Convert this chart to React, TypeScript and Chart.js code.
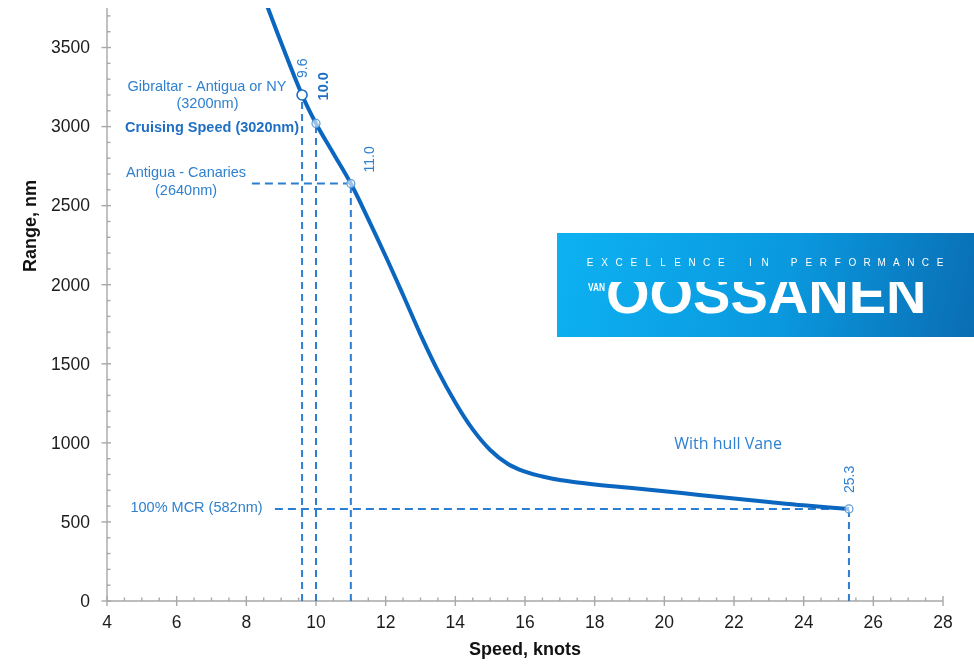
import React, { useEffect, useRef } from "react";
import { Chart, registerables } from "chart.js";

Chart.register(...registerables);

// ---- data ----
const speeds = [8.5, 9.0, 9.6, 10.0, 10.5, 11.0, 11.5, 12.0, 12.5, 13.0, 13.5, 14.0, 14.5, 15.0, 15.5, 16.0, 16.5, 17.0, 18, 19, 20, 21, 22, 23, 24, 25.3];
const ranges = [3820, 3530, 3200, 3020, 2830, 2640, 2415, 2180, 1935, 1685, 1455, 1255, 1085, 955, 868, 818, 787, 765, 737, 716, 694, 671, 648, 626, 605, 582];

const markerSpeeds = [9.6, 10.0, 11.0, 25.3];
const markerRanges = [3200, 3020, 2640, 582];
const markerLabels = ["9.6", "10.0", "11.0", "25.3"];
const guideStartSpeeds = [null, null, 8.16, 8.82];

const xTicks = [4, 6, 8, 10, 12, 14, 16, 18, 20, 22, 24, 26, 28];
const yTicks = [0, 500, 1000, 1500, 2000, 2500, 3000, 3500];
const xRange = [4, 28];
const yRange = [0, 3750];

const xTitle = "Speed, knots";
const yTitle = "Range, nm";

const notes = [
  { text: "Gibraltar - Antigua or NY", x: 6.87, y: 3250, bold: false },
  { text: "(3200nm)", x: 6.885, y: 3143, bold: false },
  { text: "Cruising Speed (3020nm)", x: 7.015, y: 2991, bold: true },
  { text: "Antigua - Canaries", x: 6.27, y: 2707, bold: false },
  { text: "(2640nm)", x: 6.27, y: 2593, bold: false },
  { text: "100% MCR (582nm)", x: 6.57, y: 588, bold: false },
];
const vaneNote = { text: "With hull Vane", x: 21.83, y: 987 };

const logoTagline = "EXCELLENCE IN PERFORMANCE";
const logoSmall = "VAN";
const logoBig = "OOSSANEN";

// ---- styles ----
const CURVE = "#0b66bf";
const GUIDE = "#2a7fd2";
const NOTE = "#2f80cf";
const AXIS = "#a8a8a8";
const FONT = "'Liberation Sans', Arial, sans-serif";

const labelOffsets = [
  { dx: 1, dy: -17, bold: false, size: 14 },
  { dx: 8, dy: -23, bold: true, size: 14.5 },
  { dx: 19, dy: -11, bold: false, size: 14 },
  { dx: 1, dy: -16, bold: false, size: 14 },
];

const drawPlugin = {
  id: "customDraw",
  beforeDatasetsDraw(chart: any) {
    const ctx = chart.ctx as CanvasRenderingContext2D;
    const xs = chart.scales.x;
    const ys = chart.scales.y;
    const area = chart.chartArea;
    const ax = area.left;
    const ay = area.bottom;
    ctx.save();
    ctx.strokeStyle = AXIS;
    ctx.lineWidth = 1.4;
    ctx.beginPath();
    ctx.moveTo(ax, area.top);
    ctx.lineTo(ax, ay);
    ctx.lineTo(area.right, ay);
    ctx.stroke();
    for (let v = yRange[0]; v <= yRange[1]; v += 100) {
      const py = ys.getPixelForValue(v);
      ctx.beginPath();
      if (v % 500 === 0) {
        ctx.moveTo(ax - 5.5, py);
        ctx.lineTo(ax + 4, py);
      } else {
        ctx.moveTo(ax, py);
        ctx.lineTo(ax + 3.5, py);
      }
      ctx.stroke();
    }
    for (let v = xRange[0]; v <= xRange[1] + 1e-9; v += 0.5) {
      const px = xs.getPixelForValue(v);
      ctx.beginPath();
      if (Math.abs(v - Math.round(v)) < 1e-9 && Math.round(v) % 2 === 0) {
        ctx.moveTo(px, ay - 5);
        ctx.lineTo(px, ay + 5);
      } else {
        ctx.moveTo(px, ay - 3.5);
        ctx.lineTo(px, ay);
      }
      ctx.stroke();
    }
    ctx.fillStyle = "#1c1c1c";
    ctx.font = `17.5px ${FONT}`;
    ctx.textAlign = "right";
    ctx.textBaseline = "middle";
    yTicks.forEach((v) => {
      ctx.fillText(String(v), 90, ys.getPixelForValue(v) + 1);
    });
    ctx.textAlign = "center";
    xTicks.forEach((v) => {
      ctx.fillText(String(v), xs.getPixelForValue(v), ay + 22);
    });
    ctx.font = `bold 18px ${FONT}`;
    ctx.fillStyle = "#111";
    ctx.fillText(xTitle, 525, ay + 49);
    ctx.save();
    ctx.translate(31, 226);
    ctx.rotate(-Math.PI / 2);
    ctx.fillText(yTitle, 0, 0);
    ctx.restore();
    ctx.restore();
  },
  afterDraw(chart: any) {
    const ctx = chart.ctx as CanvasRenderingContext2D;
    const xs = chart.scales.x;
    const ys = chart.scales.y;
    ctx.save();
    ctx.textAlign = "center";
    ctx.textBaseline = "middle";
    notes.forEach((n) => {
      ctx.font = `${n.bold ? "bold " : ""}14.5px ${FONT}`;
      ctx.fillStyle = n.bold ? "#1f6fc4" : NOTE;
      ctx.fillText(n.text, xs.getPixelForValue(n.x), ys.getPixelForValue(n.y));
    });
    ctx.font = `16px 'Open Sans', sans-serif`;
    ctx.fillStyle = NOTE;
    ctx.fillText(vaneNote.text, xs.getPixelForValue(vaneNote.x), ys.getPixelForValue(vaneNote.y));
    markerLabels.forEach((lab, i) => {
      const o = labelOffsets[i];
      const px = xs.getPixelForValue(markerSpeeds[i]) + o.dx;
      const py = ys.getPixelForValue(markerRanges[i]) + o.dy;
      ctx.save();
      ctx.translate(px, py);
      ctx.rotate(-Math.PI / 2);
      ctx.font = `${o.bold ? "bold " : ""}${o.size}px ${FONT}`;
      ctx.fillStyle = o.bold ? "#1f6fc4" : NOTE;
      ctx.textAlign = "left";
      ctx.textBaseline = "middle";
      ctx.fillText(lab, 0, 0);
      ctx.restore();
    });
    // logo
    const lx = 557, ly = 233, lw = 974 - 557, lh = 104;
    const g = ctx.createLinearGradient(lx, ly, lx + lw, ly + lh);
    g.addColorStop(0, "#0db2f2");
    g.addColorStop(0.55, "#0a98de");
    g.addColorStop(1, "#0a6db3");
    ctx.fillStyle = g;
    ctx.fillRect(lx, ly, lw, lh);
    ctx.fillStyle = "#ffffff";
    ctx.font = `10px ${FONT}`;
    ctx.textAlign = "center";
    ctx.textBaseline = "middle";
    const step = (940 - 590) / (logoTagline.length - 1);
    for (let i = 0; i < logoTagline.length; i++) {
      ctx.fillText(logoTagline[i], 590 + i * step, 263.5);
    }
    ctx.font = `bold 10px ${FONT}`;
    ctx.textAlign = "left";
    ctx.textBaseline = "alphabetic";
    ctx.fillText(logoSmall, 588, 291, 17);
    ctx.save();
    ctx.beginPath();
    ctx.rect(604, 282, 340, 40);
    ctx.clip();
    ctx.font = `900 56px ${FONT}`;
    ctx.fillText(logoBig, 606, 313, 332);
    ctx.restore();
    ctx.restore();
  },
};

export default function App() {
  const ref = useRef<HTMLCanvasElement | null>(null);
  useEffect(() => {
    if (!ref.current) return;
    const datasets: any[] = [];
    datasets.push({
      data: speeds.map((s, i) => ({ x: s, y: ranges[i] })),
      borderColor: CURVE,
      borderWidth: 4,
      pointRadius: 0,
      tension: 0.4,
      fill: false,
      order: 1,
    });
    datasets.push({
      data: markerSpeeds.map((s, i) => ({ x: s, y: markerRanges[i] })),
      showLine: false,
      pointRadius: [5, 4, 4, 4],
      pointBackgroundColor: ["#ffffff", "rgba(255,255,255,0.6)", "rgba(255,255,255,0.6)", "rgba(255,255,255,0.6)"],
      pointBorderColor: ["#1f6fc4", "#5a9ad8", "#5a9ad8", "#5a9ad8"],
      pointBorderWidth: [1.6, 1.2, 1.2, 1.2],
      order: 0,
    });
    markerSpeeds.forEach((s, i) => {
      datasets.push({
        data: [{ x: s, y: yRange[0] }, { x: s, y: markerRanges[i] }],
        borderColor: GUIDE,
        borderWidth: 2,
        borderDash: [7, 5],
        pointRadius: 0,
        order: 2,
      });
    });
    guideStartSpeeds.forEach((start, i) => {
      if (start === null) return;
      datasets.push({
        data: [{ x: start, y: markerRanges[i] }, { x: markerSpeeds[i], y: markerRanges[i] }],
        borderColor: GUIDE,
        borderWidth: 2,
        borderDash: [8, 5],
        pointRadius: 0,
        order: 2,
      });
    });
    const chart = new Chart(ref.current, {
      type: "line",
      data: { datasets },
      options: {
        responsive: false,
        animation: false,
        devicePixelRatio: 1,
        layout: { padding: { left: 107, right: 31, top: 8, bottom: 63 } },
        plugins: { legend: { display: false }, tooltip: { enabled: false } },
        scales: {
          x: { type: "linear", min: xRange[0], max: xRange[1], display: false },
          y: { type: "linear", min: yRange[0], max: yRange[1], display: false },
        },
      },
      plugins: [drawPlugin],
    });
    return () => chart.destroy();
  }, []);
  return (
    <div style={{ position: "fixed", left: 0, top: 0, width: 974, height: 664, background: "#fff" }}>
      <canvas ref={ref} width={974} height={664} style={{ display: "block" }} />
    </div>
  );
}
